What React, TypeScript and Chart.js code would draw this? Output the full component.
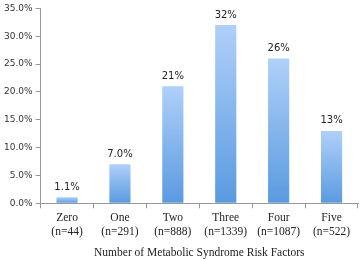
import React, { useEffect, useRef } from "react";
import { Chart, registerables } from "chart.js";

Chart.register(...registerables);

const categories = [["Zero", "(n=44)"], ["One", "(n=291)"], ["Two", "(n=888)"], ["Three", "(n=1339)"], ["Four", "(n=1087)"], ["Five", "(n=522)"]];
const values = [1.1, 7.0, 21, 32, 26, 13];
const valueLabels = ["1.1%", "7.0%", "21%", "32%", "26%", "13%"];
const axisTitle = "Number of Metabolic Syndrome Risk Factors";

export default function App() {
  const ref = useRef<HTMLCanvasElement>(null);
  useEffect(() => {
    document.body.style.margin = "0";
    const labelPlugin = {
      id: "valueLabels",
      afterDatasetsDraw(chart: any) {
        const ctx = chart.ctx;
        const meta = chart.getDatasetMeta(0);
        ctx.save();
        ctx.font = "10px 'DejaVu Sans'";
        ctx.fillStyle = "#222";
        ctx.textAlign = "center";
        ctx.textBaseline = "bottom";
        meta.data.forEach((el: any, i: number) => {
          ctx.fillText(valueLabels[i], el.x, el.y - 5);
        });
        ctx.restore();
      },
    };
    const chart = new Chart(ref.current!, {
      type: "bar",
      data: {
        labels: categories,
        datasets: [
          {
            data: values,
            backgroundColor: (c: any) => {
              const area = c.chart.chartArea;
              if (!area || c.dataIndex === undefined) return "#7fb2ec";
              const yTop = c.chart.scales.y.getPixelForValue(values[c.dataIndex]);
              const g = c.chart.ctx.createLinearGradient(0, yTop, 0, area.bottom);
              g.addColorStop(0, "#afd0f9");
              g.addColorStop(1, "#5a9ae0");
              return g;
            },
            borderWidth: 0,
            barPercentage: 0.8,
            categoryPercentage: 0.5,
          },
        ],
      },
      plugins: [labelPlugin],
      options: {
        animation: false,
        responsive: false,
        layout: { padding: { top: 6, right: 2, left: 1, bottom: 0 } },
        plugins: { legend: { display: false }, tooltip: { enabled: false } },
        scales: {
          x: {
            grid: { display: true, drawOnChartArea: false, drawTicks: true, tickLength: 5, color: "#999" },
            border: { display: true, color: "#999" },
            ticks: { color: "#222", font: { family: "'Liberation Serif'", size: 11.5, lineHeight: 1.22 }, padding: 3, maxRotation: 0 },
            title: {
              display: true,
              text: axisTitle,
              color: "#222",
              font: { family: "'Liberation Serif'", size: 11.5, lineHeight: 1.1 },
              padding: { top: 4, bottom: 0 },
            },
          },
          y: {
            min: 0,
            max: 35,
            ticks: {
              stepSize: 5,
              color: "#333",
              font: { family: "'DejaVu Sans'", size: 9 },
              padding: 3,
              callback: (v: any) => Number(v).toFixed(1) + "%",
            },
            grid: { display: true, drawOnChartArea: false, drawTicks: true, tickLength: 5, color: "#999" },
            border: { display: true, color: "#999" },
          },
        },
      },
    });
    return () => chart.destroy();
  }, []);
  return <canvas ref={ref} width={360} height={259} style={{ display: "block" }} />;
}
